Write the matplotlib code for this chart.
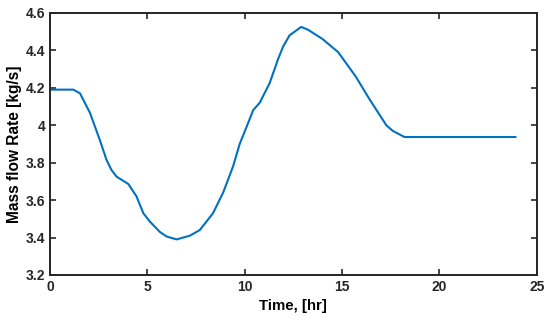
import matplotlib
matplotlib.use('Agg')
import matplotlib.pyplot as plt

# Mass flow rate over one day
time_hr = [0, 1.2, 1.54, 2.05, 2.56, 2.9, 3.16, 3.42, 4.02, 4.44, 4.79, 5.13, 5.64,
           6.0, 6.5, 7.18, 7.69, 8.37, 8.89, 9.4, 9.74, 10.09, 10.43, 10.77, 11.28,
           11.7, 11.97, 12.3, 12.9, 13.25, 14.0, 14.8, 15.7, 16.4, 17.27, 17.6,
           18.2, 23.9]
mass_flow = [4.19, 4.19, 4.17, 4.066, 3.92, 3.815, 3.76, 3.725, 3.686, 3.62, 3.53,
             3.485, 3.43, 3.405, 3.39, 3.41, 3.44, 3.53, 3.64, 3.78, 3.9, 3.99,
             4.08, 4.12, 4.225, 4.35, 4.42, 4.48, 4.525, 4.51, 4.46, 4.39, 4.26,
             4.14, 4.0, 3.97, 3.937, 3.937]

plt.rcParams['font.family'] = ['Liberation Sans', 'DejaVu Sans']
plt.rcParams['font.weight'] = 'bold'

fig = plt.figure(figsize=(5.5, 3.22), dpi=100)
ax = fig.add_axes([0.091, 0.146, 0.885, 0.814])

ax.plot(time_hr, mass_flow, color='#0072BD', linewidth=1.5)

ax.set_xlim(0, 25)
ax.set_ylim(3.2, 4.6)
ax.set_xticks([0, 5, 10, 15, 20, 25])
ax.set_yticks([3.2, 3.4, 3.6, 3.8, 4.0, 4.2, 4.4, 4.6])
ax.set_yticklabels(['3.2', '3.4', '3.6', '3.8', '4', '4.2', '4.4', '4.6'])
ax.tick_params(direction='in', top=True, right=True, length=4, width=1.2,
               labelsize=10, colors='#262626')
for sp in ax.spines.values():
    sp.set_linewidth(1.4)
    sp.set_color('#262626')

ax.set_xlabel('Time, [hr]', fontsize=10.8, fontweight='bold', labelpad=4)
ax.set_ylabel('Mass flow Rate [kg/s]', fontsize=11.2, fontweight='bold', labelpad=3)

fig.savefig('out.png', dpi=100)
